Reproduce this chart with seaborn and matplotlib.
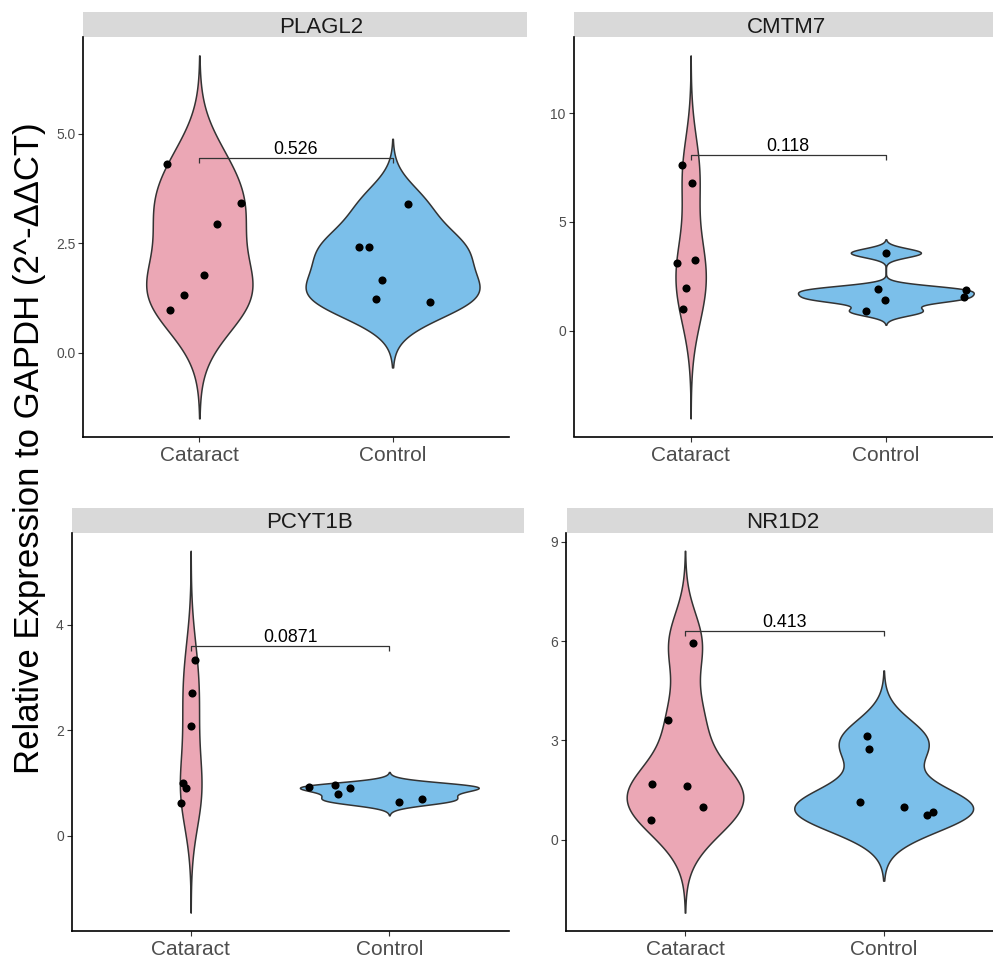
import numpy as np
import pandas as pd
import matplotlib
matplotlib.use("Agg")
import matplotlib.pyplot as plt
import seaborn as sns
from matplotlib.patches import Rectangle

# ---- data -------------------------------------------------------------
genes = ["PLAGL2", "CMTM7", "PCYT1B", "NR1D2"]
groups = ["Cataract", "Control"]

plagl2_cataract = [4.32, 3.43, 2.95, 1.77, 1.33, 0.98]
plagl2_control = [3.39, 2.41, 2.41, 1.66, 1.24, 1.17]
cmtm7_cataract = [7.63, 6.77, 3.12, 3.23, 1.96, 0.99]
cmtm7_control = [3.58, 1.90, 1.42, 0.89, 1.85, 1.53]
pcyt1b_cataract = [3.33, 2.70, 2.08, 1.00, 0.91, 0.62]
pcyt1b_control = [0.93, 0.96, 0.90, 0.79, 0.64, 0.69]
nr1d2_cataract = [5.94, 3.61, 1.69, 1.62, 0.99, 0.59]
nr1d2_control = [3.13, 2.75, 1.15, 0.99, 0.75, 0.84]

# horizontal jitter of each point (category units)
plagl2_jitter = [-0.168, 0.218, 0.090, 0.022, -0.079, -0.152,
                 0.078, -0.175, -0.121, -0.056, -0.087, 0.195]
cmtm7_jitter = [-0.043, 0.005, -0.068, 0.020, -0.022, -0.041,
                0.002, -0.040, -0.004, -0.101, 0.410, 0.400]
pcyt1b_jitter = [0.023, 0.008, 0.002, -0.040, -0.024, -0.050,
                 -0.406, -0.272, -0.200, -0.260, 0.049, 0.165]
nr1d2_jitter = [0.039, -0.086, -0.168, 0.008, 0.091, -0.171,
                -0.082, -0.072, -0.118, 0.104, 0.218, 0.250]

p_values = ["0.526", "0.118", "0.0871", "0.413"]
bracket_y = [4.44, 8.08, 3.60, 6.30]

y_ticks = {
    "PLAGL2": [0.0, 2.5, 5.0],
    "CMTM7": [0, 5, 10],
    "PCYT1B": [0, 2, 4],
    "NR1D2": [0, 3, 6, 9],
}
y_tick_labels = {
    "PLAGL2": ["0.0", "2.5", "5.0"],
    "CMTM7": ["0", "5", "10"],
    "PCYT1B": ["0", "2", "4"],
    "NR1D2": ["0", "3", "6", "9"],
}

values = {
    "PLAGL2": (plagl2_cataract, plagl2_control, plagl2_jitter),
    "CMTM7": (cmtm7_cataract, cmtm7_control, cmtm7_jitter),
    "PCYT1B": (pcyt1b_cataract, pcyt1b_control, pcyt1b_jitter),
    "NR1D2": (nr1d2_cataract, nr1d2_control, nr1d2_jitter),
}

y_label = "Relative Expression to GAPDH (2^-ΔΔCT)"
palette = ["#EBA7B5", "#7BBFEA"]

# ---- style ------------------------------------------------------------
sns.set_style("ticks")
plt.rcParams["font.family"] = ["Liberation Sans", "DejaVu Sans"]


def nrd0_factor(kde):
    """Silverman's rule as used by R's bw.nrd0, returned as a scipy factor."""
    d = np.asarray(kde.dataset).ravel()
    sd = d.std(ddof=1)
    q75, q25 = np.percentile(d, [75, 25])
    lo = min(sd, (q75 - q25) / 1.34)
    h = 0.9 * lo * len(d) ** -0.2
    return h / sd


W, H = 993, 959
fig = plt.figure(figsize=(W / 100, H / 100), dpi=100)

# panel boxes in pixels: (left, top, right, bottom), strip (left, top, right), title centre x
layout = {
    "PLAGL2": dict(box=(83.4, 37.3, 508.5, 436.5), strip=(83.4, 12.3, 526.7), tx=321),
    "CMTM7": dict(box=(573.5, 37.3, 1003.0, 436.5), strip=(573.5, 12.3, 1010.0), tx=787),
    "PCYT1B": dict(box=(71.5, 532.7, 508.5, 930.7), strip=(71.5, 507.7, 523.5), tx=310),
    "NR1D2": dict(box=(565.8, 532.7, 1002.9, 930.7), strip=(566.5, 507.7, 1010.0), tx=783),
}

for gi, gene in enumerate(genes):
    cat, ctrl, jit = values[gene]
    lay = layout[gene]
    l, t, r, b = lay["box"]
    ax = fig.add_axes([l / W, 1 - b / H, (r - l) / W, (b - t) / H])

    df = pd.DataFrame({
        "group": [groups[0]] * len(cat) + [groups[1]] * len(ctrl),
        "value": list(cat) + list(ctrl),
    })
    # one violin layer so that "area" scaling is shared by both groups
    sns.violinplot(
        data=df, x="group", y="value", order=groups, color=palette[0],
        saturation=1, cut=3, bw_method=nrd0_factor, density_norm="area",
        width=0.9, gridsize=512, inner=None, linewidth=1.1,
        linecolor="#333333", ax=ax,
    )
    for coll, col in zip(ax.collections, palette):
        coll.set_facecolor(col)

    codes = np.array([0] * len(cat) + [1] * len(ctrl), dtype=float)
    sns.scatterplot(
        x=codes + np.array(jit), y=df["value"].to_numpy(),
        color="black", s=34, linewidth=0, ax=ax, zorder=3, legend=False,
    )

    ax.set_xlim(-0.6, 1.6)
    ax.margins(y=0.05)
    ax.autoscale(axis="y")
    ax.autoscale_view()
    y0, y1 = ax.get_ylim()
    tip = 0.012 * (y1 - y0)

    by = bracket_y[gi]
    ax.plot([0, 0, 1, 1], [by - tip, by, by, by - tip], color="#333333",
            lw=0.9, zorder=4, solid_capstyle="butt")
    ax.annotate(p_values[gi], xy=(0.5, by), xytext=(0, 3),
                textcoords="offset points", ha="center", va="baseline",
                fontsize=12.8, color="black")
    ax.set_ylim(y0, y1)

    ax.set_xticks([0, 1])
    ax.set_xticklabels(groups)
    ax.set_yticks(y_ticks[gene])
    ax.set_yticklabels(y_tick_labels[gene])
    ax.tick_params(axis="both", length=3.5, width=0.8, color="#333333",
                   labelcolor="#4D4D4D")
    ax.tick_params(axis="x", labelsize=15, pad=3.5)
    ax.tick_params(axis="y", labelsize=10, pad=2)
    ax.set_xlabel("")
    ax.set_ylabel("")
    for side in ("top", "right"):
        ax.spines[side].set_visible(False)
    for side in ("left", "bottom"):
        ax.spines[side].set_linewidth(1.2)
        ax.spines[side].set_color("black")

    sl, st, sr = lay["strip"]
    fig.add_artist(Rectangle((sl / W, 1 - t / H), (sr - sl) / W, (t - st) / H,
                             transform=fig.transFigure, facecolor="#D9D9D9",
                             edgecolor="none", zorder=0))
    fig.text(lay["tx"] / W, 1 - (t - 4.2) / H, gene, ha="center",
             va="baseline", fontsize=16, color="#1A1A1A")

fig.text(30 / W, 1 - 448 / H, y_label, rotation=90, ha="center",
         va="center", fontsize=25, color="black")

fig.savefig("out.png", dpi=100)
